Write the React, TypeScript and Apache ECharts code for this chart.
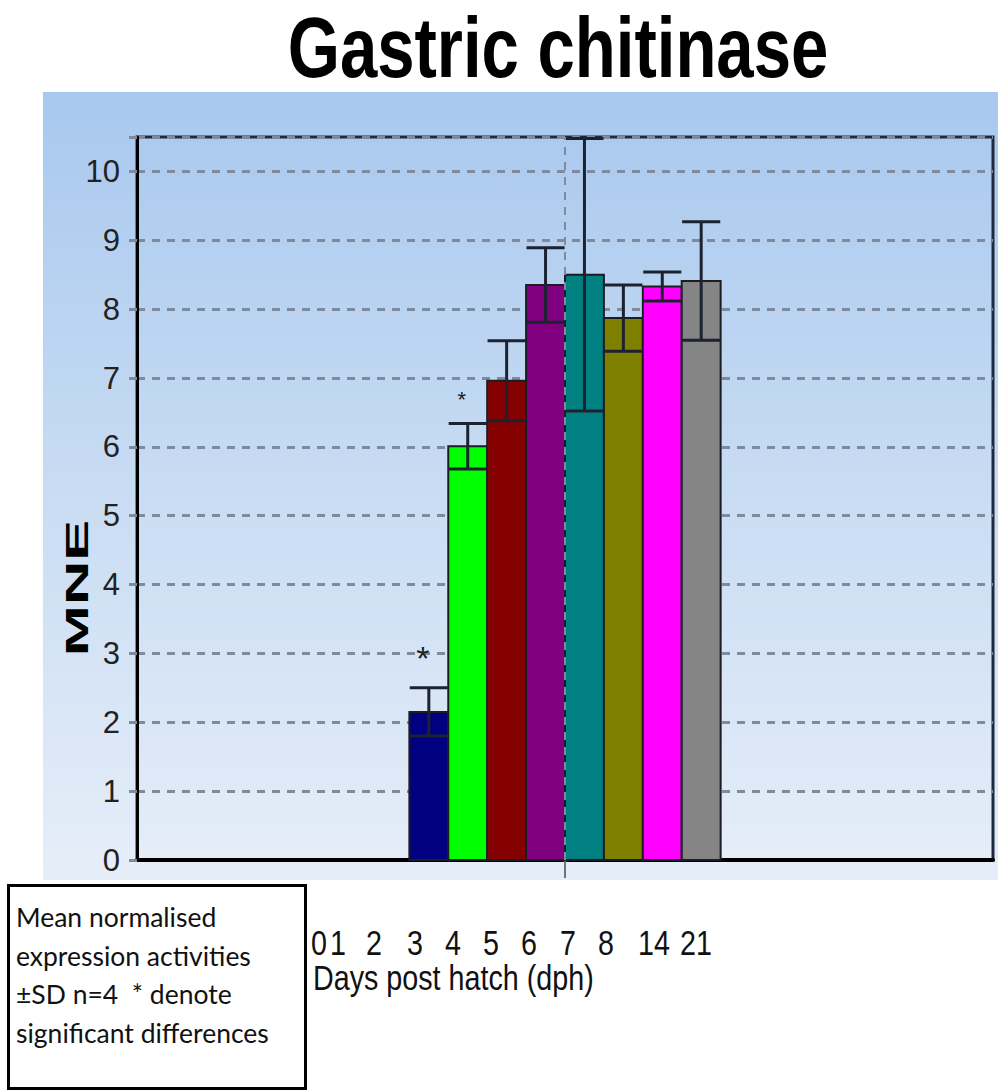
import React, { useEffect, useRef } from "react";
import * as echarts from "echarts";

// ---- data ----
const title = "Gastric chitinase";
const yAxisName = "MNE";
const xAxisName = "Days post hatch (dph)";
const days = ["0", "1", "2", "3", "4", "5", "6", "7", "8", "14", "21"];
const means = [0, 0, 0, 2.15, 6.01, 6.96, 8.35, 8.5, 7.87, 8.33, 8.41];
const sds = [0, 0, 0, 0.35, 0.33, 0.58, 0.54, 1.98, 0.48, 0.21, 0.86];
const significance = ["", "", "", "*", "*", "", "", "", "", "", ""];
const barColors = ["#c0c0c0", "#c0c0c0", "#c0c0c0", "#000080", "#00ff00", "#850000", "#800080", "#008080", "#808000", "#ff00ff", "#858585"];
const noteLines = ["Mean normalised", "expression activities", "\u00b1SD n=4  * denote", "significant differences"];

// ---- layout ----
const slotCount = 22;
const firstSlot = 4;
const dayLabelX = [319, 338, 374, 415, 453, 491, 529, 568, 606, 654, 696];
const starSize = [0, 0, 0, 34, 22, 0, 0, 0, 0, 0, 0];
const starLift = [0, 0, 0, 30, 24, 0, 0, 0, 0, 0, 0];

export default function App() {
  const ref = useRef<HTMLDivElement>(null);
  useEffect(() => {
    if (!ref.current) return;
    const chart = echarts.init(ref.current, null, { renderer: "svg" });
    const barData = days.map((d, i) => [firstSlot + i + 0.5, means[i], sds[i], i]);
    const gridColor = "#7f8b9c";
    const narrow = "'Liberation Sans Narrow', 'Arial Narrow', 'Liberation Sans', sans-serif";

    const graphic: any[] = [
      {
        type: "rect",
        z: -100,
        silent: true,
        shape: { x: 43, y: 92, width: 955, height: 788 },
        style: {
          fill: new echarts.graphic.LinearGradient(0, 0, 0, 1, [
            { offset: 0, color: "#a8c8ee" },
            { offset: 0.5, color: "#c8dcf3" },
            { offset: 1, color: "#e6eef9" },
          ]),
        },
      },
      {
        type: "text",
        x: 558,
        y: 47,
        scaleX: 0.78,
        style: {
          text: title,
          font: "bold 86px 'Liberation Sans', Arial, sans-serif",
          fill: "#000",
          align: "center",
          verticalAlign: "middle",
        },
      },
      {
        type: "text",
        x: 77,
        y: 588,
        rotation: Math.PI / 2,
        scaleX: 1.92,
        style: {
          text: yAxisName,
          font: "bold 32px 'Liberation Sans', Arial, sans-serif",
          fill: "#000",
          align: "center",
          verticalAlign: "middle",
        },
      },
      ...days.map((d, i) => ({
        type: "text",
        x: dayLabelX[i],
        y: 943,
        scaleX: 0.82,
        style: {
          text: d,
          font: "35px 'Liberation Sans', Arial, sans-serif",
          fill: "#111",
          align: "center",
          verticalAlign: "middle",
        },
      })),
      {
        type: "text",
        x: 313,
        y: 978,
        scaleX: 0.82,
        style: {
          text: xAxisName,
          font: "35px 'Liberation Sans', Arial, sans-serif",
          fill: "#111",
          align: "left",
          verticalAlign: "middle",
        },
      },
      {
        type: "rect",
        shape: { x: 8.5, y: 885.5, width: 297, height: 203 },
        style: { fill: "#fff", stroke: "#000", lineWidth: 3 },
      },
      ...noteLines.map((t, i) => ({
        type: "text",
        x: 16,
        y: 917 + i * 38.5,
        style: {
          text: t,
          font: "26.5px Lato, 'Open Sans', sans-serif",
          fill: "#111",
          align: "left",
          verticalAlign: "middle",
        },
      })),
    ];

    chart.setOption({
      animation: false,
      backgroundColor: "#fff",
      graphic,
      grid: {
        left: 137,
        top: 137,
        width: 856,
        height: 723,
        show: true,
        borderColor: "#1e2a40",
        borderWidth: 3,
        backgroundColor: "transparent",
      },
      xAxis: {
        type: "value",
        min: 0,
        max: slotCount,
        splitLine: { show: false },
        axisLabel: { show: false },
        axisLine: { show: true, onZero: false, lineStyle: { color: "#000", width: 4 } },
        axisTick: {
          show: true,
          customValues: [slotCount / 2],
          length: 18,
          lineStyle: { color: "#6b7280", width: 2 },
        },
      },
      yAxis: {
        type: "value",
        min: 0,
        max: 10.5,
        interval: 1,
        axisLine: { show: true, lineStyle: { color: "#000", width: 3 } },
        axisTick: { show: true, length: 8, lineStyle: { color: gridColor, width: 3 } },
        axisLabel: {
          margin: 17,
          fontSize: 31,
          fontFamily: narrow,
          color: "#222",
          formatter: (v: number) => (Number.isInteger(v) ? String(v) : ""),
        },
        splitLine: { show: true, lineStyle: { color: gridColor, width: 3, type: [8, 7] } },
      },
      series: [
        {
          type: "custom",
          z: 2,
          data: barData,
          renderItem: (params: any, api: any) => {
            const x = api.value(0);
            const v = api.value(1);
            const idx = api.value(3);
            if (!(v > 0)) return { type: "group", children: [] };
            const p0 = api.coord([x - 0.5, 0]);
            const p1 = api.coord([x + 0.5, v]);
            return {
              type: "rect",
              shape: { x: p0[0], y: p1[1], width: p1[0] - p0[0], height: p0[1] - p1[1] },
              style: { fill: barColors[idx], stroke: "#1c1c24", lineWidth: 2 },
            };
          },
          markLine: {
            silent: true,
            symbol: "none",
            label: { show: false },
            lineStyle: { color: gridColor, width: 2, type: [8, 7] },
            data: [{ xAxis: slotCount / 2 }],
          },
        },
        {
          type: "custom",
          z: 3,
          data: barData,
          renderItem: (params: any, api: any) => {
            const x = api.value(0);
            const m = api.value(1);
            const s = api.value(2);
            const idx = api.value(3);
            const children: any[] = [];
            if (m > 0) {
              const hi = api.coord([x, m + s]);
              const lo = api.coord([x, m - s]);
              const l = api.coord([x - 0.49, m])[0];
              const r = api.coord([x + 0.49, m])[0];
              const st = { stroke: "#1c2230", lineWidth: 3 };
              children.push({ type: "line", shape: { x1: hi[0], y1: hi[1], x2: lo[0], y2: lo[1] }, style: st });
              children.push({ type: "line", shape: { x1: l, y1: hi[1], x2: r, y2: hi[1] }, style: st });
              children.push({ type: "line", shape: { x1: l, y1: lo[1], x2: r, y2: lo[1] }, style: st });
              if (significance[idx]) {
                children.push({
                  type: "text",
                  x: hi[0] - 6,
                  y: hi[1] - starLift[idx],
                  style: {
                    text: significance[idx],
                    font: `${starSize[idx]}px 'Liberation Sans', Arial, sans-serif`,
                    fill: "#222",
                    align: "center",
                    verticalAlign: "middle",
                  },
                });
              }
            }
            return { type: "group", children };
          },
        },
      ],
    });
    return () => chart.dispose();
  }, []);
  return <div ref={ref} style={{ position: "fixed", left: 0, top: 0, width: 998, height: 1090 }} />;
}
